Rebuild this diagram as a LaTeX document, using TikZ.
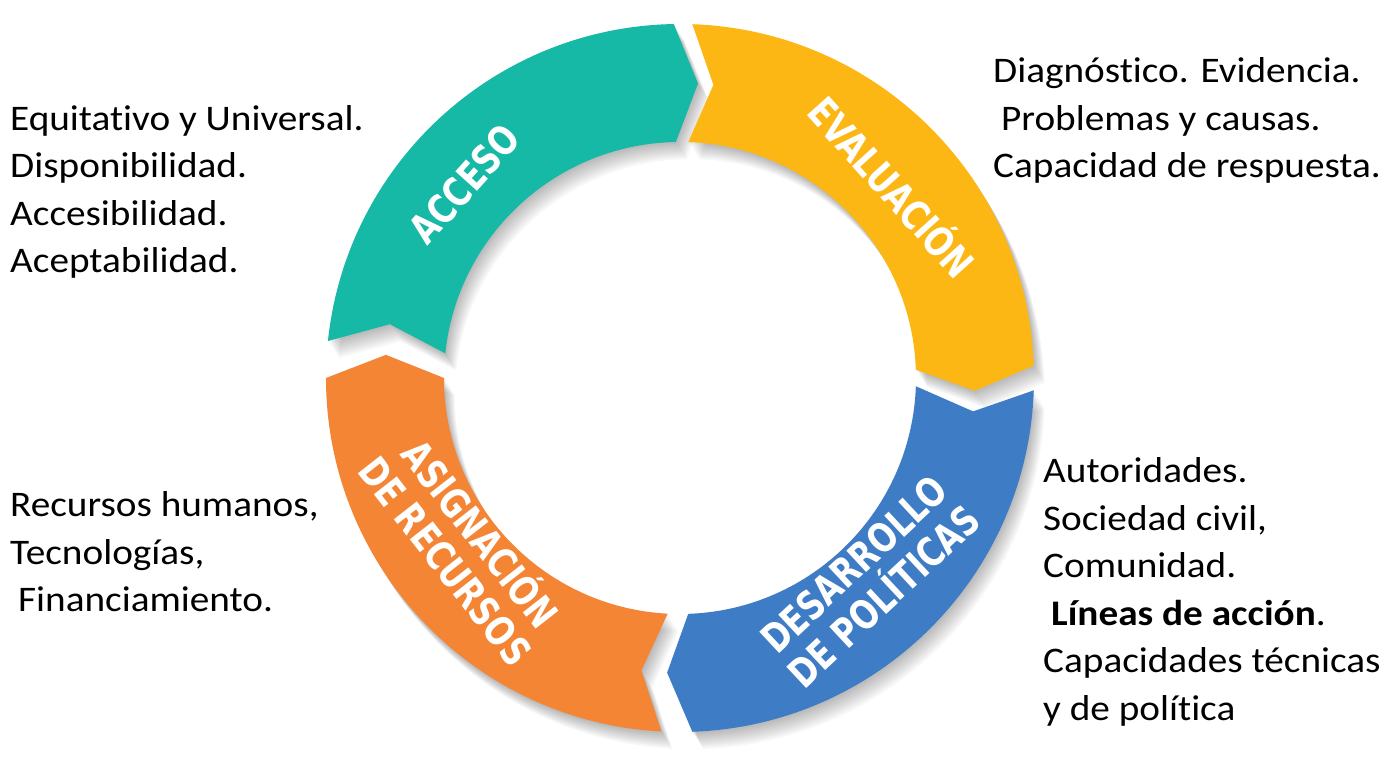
\documentclass[tikz,border=0pt]{standalone}
\usepackage{fontspec}
\setmainfont{Carlito}[FakeStretch=1.09, Ligatures=NoCommon]
\newfontfamily\bandfont{DejaVu Sans Condensed}[FakeStretch=0.88]
\usepackage{xcolor}
\definecolor{accesoc}{RGB}{22,184,166}
\definecolor{evalc}{RGB}{253,183,20}
\definecolor{desarc}{RGB}{62,125,198}
\definecolor{asignc}{RGB}{244,133,52}
\tikzset{
    bandlabel/.style={text=white, inner sep=0pt, align=center,
        font=\bandfont\bfseries\fontsize{40}{44}\selectfont},
    notes/.style={inner sep=0pt, anchor=base west, align=left,
        font=\fontsize{36}{47.5}\selectfont},
}

\begin{document}
\begin{tikzpicture}[x=1pt, y=1pt]
    \useasboundingbox (-680,-387) rectangle (709,378);
    \fill[white] (-680,-387) rectangle (709,378);
    \def\Rout{354pt}
    \def\Rin{236pt}
    \def\Rmid{295pt}
    \def\tip{4.5}
    \def\segs{174/91/accesoc, 88/2/evalc, -2/-88/desarc, -93/-180/asignc}
    % soft shadow
    \foreach \k in {1,...,9}{
        \foreach \s/\e/\c in \segs{
            \fill[black, opacity=0.032, shift={(\k*1.2, -\k*1.9)}]
                (\s:\Rout) arc[start angle=\s, end angle=\e, radius=\Rout]
                -- (\e-\tip:\Rmid) -- (\e:\Rin)
                arc[start angle=\e, end angle=\s, radius=\Rin]
                -- (\s-\tip:\Rmid) -- cycle;
        }
    }
    \foreach \s/\e/\c in \segs{
        \fill[\c] (\s:\Rout) arc[start angle=\s, end angle=\e, radius=\Rout]
            -- (\e-\tip:\Rmid) -- (\e:\Rin)
            arc[start angle=\e, end angle=\s, radius=\Rin]
            -- (\s-\tip:\Rmid) -- cycle;
    }
    \node[bandlabel, rotate=48] (acceso) at (138:290pt) {ACCESO};
    \node[bandlabel, rotate=-48] (evaluacion) at (42:288pt) {EVALUACIÓN};
    \node[bandlabel, rotate=43] (desarrollo) at (-47:277pt) {DESARROLLO\\DE POLÍTICAS};
    \node[bandlabel, rotate=-52] (asignacion) at (-142:272pt) {ASIGNACIÓN\\DE RECURSOS};

    \node[notes] (accesonotes) at (-670,105)
        {Equitativo y Universal.\\Disponibilidad.\\Accesibilidad.\\Aceptabilidad.};
    \node[notes] (evalnotes) at (313,200)
        {Diagnóstico. Evidencia.\\\hspace*{8pt}Problemas y causas.\\Capacidad de respuesta.};
    \node[notes] (asignnotes) at (-670,-233.7)
        {Recursos humanos,\\Tecnologías,\\\hspace*{8pt}Financiamiento.};
    \node[notes] (desarnotes) at (363,-342)
        {Autoridades.\\Sociedad civil,\\Comunidad.\\\hspace*{8pt}\textbf{Líneas de acción}.\\Capacidades técnicas\\y de política};
\end{tikzpicture}
\end{document}
